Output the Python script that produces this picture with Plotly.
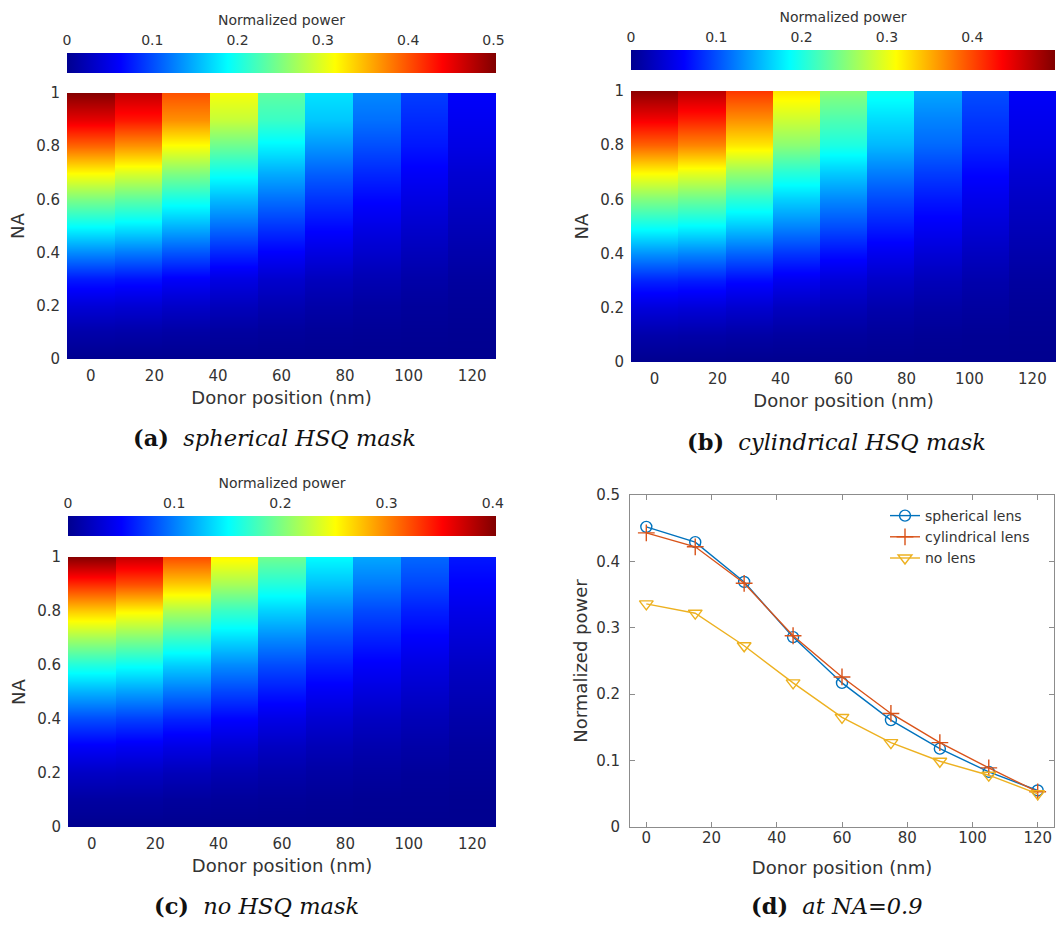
import plotly.graph_objects as go

W, H = 1058, 927

# ---------------- data ----------------
donor_nm = [0, 15, 30, 45, 60, 75, 90, 105, 120]
na_levels = [0.0, 0.1, 0.2, 0.3, 0.4, 0.5, 0.6, 0.7, 0.8, 0.9, 1.0]

# Normalized power maps: one row per NA level (bottom -> top), one column per donor position
power_spherical_mask = [
    [0.000, 0.000, 0.000, 0.000, 0.000, 0.000, 0.000, 0.000, 0.000],
    [0.015, 0.014, 0.012, 0.009, 0.007, 0.005, 0.004, 0.003, 0.002],
    [0.040, 0.038, 0.032, 0.025, 0.019, 0.014, 0.010, 0.007, 0.005],
    [0.075, 0.071, 0.060, 0.047, 0.035, 0.026, 0.020, 0.014, 0.009],
    [0.130, 0.122, 0.104, 0.081, 0.061, 0.046, 0.034, 0.024, 0.016],
    [0.190, 0.179, 0.152, 0.118, 0.089, 0.067, 0.049, 0.035, 0.023],
    [0.250, 0.235, 0.200, 0.155, 0.118, 0.088, 0.065, 0.047, 0.031],
    [0.315, 0.296, 0.252, 0.195, 0.148, 0.110, 0.082, 0.059, 0.038],
    [0.390, 0.367, 0.312, 0.242, 0.183, 0.137, 0.101, 0.073, 0.048],
    [0.452, 0.429, 0.369, 0.286, 0.217, 0.161, 0.118, 0.083, 0.055],
    [0.500, 0.470, 0.400, 0.310, 0.235, 0.175, 0.130, 0.093, 0.061],
]
power_cylindrical_mask = [
    [0.000, 0.000, 0.000, 0.000, 0.000, 0.000, 0.000, 0.000, 0.000],
    [0.015, 0.014, 0.012, 0.010, 0.008, 0.006, 0.004, 0.003, 0.002],
    [0.042, 0.040, 0.035, 0.027, 0.022, 0.016, 0.012, 0.009, 0.005],
    [0.078, 0.075, 0.065, 0.052, 0.040, 0.031, 0.023, 0.016, 0.009],
    [0.132, 0.126, 0.110, 0.087, 0.068, 0.052, 0.039, 0.027, 0.016],
    [0.191, 0.183, 0.159, 0.126, 0.099, 0.075, 0.056, 0.039, 0.023],
    [0.250, 0.239, 0.208, 0.164, 0.129, 0.098, 0.073, 0.051, 0.030],
    [0.314, 0.300, 0.261, 0.206, 0.162, 0.124, 0.092, 0.064, 0.038],
    [0.387, 0.370, 0.322, 0.254, 0.200, 0.152, 0.113, 0.079, 0.047],
    [0.443, 0.422, 0.367, 0.288, 0.226, 0.171, 0.127, 0.089, 0.053],
    [0.490, 0.468, 0.408, 0.322, 0.253, 0.193, 0.143, 0.100, 0.059],
]
power_no_mask = [
    [0.000, 0.000, 0.000, 0.000, 0.000, 0.000, 0.000, 0.000, 0.000],
    [0.008, 0.008, 0.006, 0.005, 0.004, 0.003, 0.002, 0.002, 0.001],
    [0.024, 0.023, 0.019, 0.015, 0.012, 0.009, 0.007, 0.005, 0.004],
    [0.048, 0.045, 0.039, 0.031, 0.023, 0.018, 0.014, 0.011, 0.007],
    [0.080, 0.075, 0.064, 0.051, 0.039, 0.030, 0.023, 0.018, 0.012],
    [0.120, 0.113, 0.097, 0.077, 0.059, 0.045, 0.035, 0.027, 0.018],
    [0.164, 0.154, 0.132, 0.105, 0.080, 0.062, 0.048, 0.037, 0.024],
    [0.216, 0.203, 0.174, 0.138, 0.105, 0.081, 0.063, 0.049, 0.032],
    [0.272, 0.255, 0.219, 0.173, 0.133, 0.102, 0.079, 0.062, 0.040],
    [0.336, 0.322, 0.273, 0.217, 0.165, 0.127, 0.099, 0.078, 0.050],
    [0.400, 0.375, 0.322, 0.255, 0.195, 0.150, 0.116, 0.091, 0.059],
]

# Panel (d): normalized power at NA = 0.9
spherical_lens = [0.452, 0.429, 0.369, 0.286, 0.217, 0.161, 0.118, 0.083, 0.055]
cylindrical_lens = [0.443, 0.422, 0.367, 0.288, 0.226, 0.171, 0.127, 0.089, 0.053]
no_lens = [0.336, 0.322, 0.273, 0.217, 0.165, 0.127, 0.099, 0.078, 0.050]

# colour limits of each map
cmax_a, cmax_b, cmax_c = 0.503, 0.497, 0.403
cbar_ticks_a = [0, 0.1, 0.2, 0.3, 0.4, 0.5]
cbar_ticks_b = [0, 0.1, 0.2, 0.3, 0.4]
cbar_ticks_c = [0, 0.1, 0.2, 0.3, 0.4]
x_ticks = [0, 20, 40, 60, 80, 100, 120]
na_ticks = [0, 0.2, 0.4, 0.6, 0.8, 1]
p_ticks = [0, 0.1, 0.2, 0.3, 0.4, 0.5]

# ---------------- style ----------------
JET = [[0.0, "rgb(0,0,143)"], [0.125, "rgb(0,0,255)"], [0.375, "rgb(0,255,255)"],
       [0.625, "rgb(255,255,0)"], [0.875, "rgb(255,0,0)"], [1.0, "rgb(128,0,0)"]]
SANS = "DejaVu Sans"
SERIF = "DejaVu Serif"
TXT = "#333333"


def px_x(p):
    return p / W


def px_y(p):
    return 1 - p / H


# panel boxes in pixels: (left, right, top, bottom)
box_a = (67, 496, 93, 359)
box_b = (631, 1056, 91, 362)
box_c = (68, 496, 557, 827)
box_d = (630, 1054, 495, 827)
cbar_a = (67, 496, 53, 73)
cbar_b = (631, 1055, 50, 70)
cbar_c = (68, 496, 516, 536)

fig = go.Figure()

step = donor_nm[1] - donor_nm[0]
edge = 0.02  # columns are flat: duplicate each value at both edges of its column
col_x = []
for xc in donor_nm:
    col_x += [xc - step / 2 + edge, xc + step / 2 - edge]

maps = [
    (power_spherical_mask, "x", "y", "coloraxis"),
    (power_cylindrical_mask, "x2", "y2", "coloraxis2"),
    (power_no_mask, "x3", "y3", "coloraxis3"),
]
for mat, xa, ya, ca in maps:
    z = [[v for v in row for _ in (0, 1)] for row in mat]
    fig.add_trace(go.Heatmap(
        x=col_x, y=na_levels, z=z, zsmooth="best",
        coloraxis=ca, xaxis=xa, yaxis=ya, hoverinfo="skip",
    ))

line_series = [
    ("spherical lens", spherical_lens, "#0072BD", "circle-open", 11),
    ("cylindrical lens", cylindrical_lens, "#D95319", "cross-thin-open", 12),
    ("no lens", no_lens, "#EDB120", "triangle-down-open", 12),
]
for name, vals, colr, sym, sz in line_series:
    fig.add_trace(go.Scatter(
        x=donor_nm, y=vals, mode="lines+markers", name=name,
        line=dict(color=colr, width=1.4),
        marker=dict(symbol=sym, size=sz, color=colr, line=dict(width=1.4, color=colr)),
        xaxis="x4", yaxis="y4",
    ))

# invisible carriers so the colour-bar label axes get drawn
for xa, ya, cmax in [("x5", "y5", cmax_a), ("x6", "y6", cmax_b), ("x7", "y7", cmax_c)]:
    fig.add_trace(go.Scatter(x=[0, cmax], y=[0, 0], mode="none", showlegend=False,
                             hoverinfo="skip", xaxis=xa, yaxis=ya))


def cbar(c, cmax):
    l, r, t, b = c
    return dict(
        cmin=0, cmax=cmax, colorscale=JET,
        colorbar=dict(
            orientation="h", x=px_x((l + r) / 2), xanchor="center",
            y=px_y((t + b) / 2), yanchor="middle",
            len=r - l, lenmode="pixels", thickness=b - t, thicknessmode="pixels",
            xpad=0, ypad=0, showticklabels=False, ticks="", outlinewidth=0,
        ),
    )


def heat_axes(box, anchor_x, anchor_y):
    l, r, t, b = box
    xa = dict(
        domain=[px_x(l), px_x(r)], anchor=anchor_y, range=[donor_nm[0] - step / 2, donor_nm[-1] + step / 2],
        tickvals=x_ticks, ticks="", showgrid=False, zeroline=False, showline=False,
        tickfont=dict(family=SANS, size=15, color=TXT), ticklabelstandoff=6,
        title=dict(text="Donor position (nm)", font=dict(family=SANS, size=18, color=TXT), standoff=7),
    )
    ya = dict(
        domain=[px_y(b), px_y(t)], anchor=anchor_x, range=[0, 1],
        tickvals=na_ticks, ticks="", showgrid=False, zeroline=False, showline=False,
        tickfont=dict(family=SANS, size=15, color=TXT), ticklabelstandoff=6,
        title=dict(text="NA", font=dict(family=SANS, size=18, color=TXT), standoff=6),
    )
    return xa, ya


def cbar_label_axes(c, cmax, ticks, anchor_x, anchor_y):
    l, r, t, b = c
    xa = dict(
        domain=[px_x(l), px_x(r)], anchor=anchor_y, side="top", range=[0, cmax],
        tickvals=ticks, ticks="", showgrid=False, zeroline=False, showline=False,
        tickfont=dict(family=SANS, size=14, color=TXT), ticklabelstandoff=4,
        title=dict(text="Normalized power", font=dict(family=SANS, size=14, color=TXT), standoff=3),
        fixedrange=True,
    )
    ya = dict(domain=[px_y(b), px_y(t)], anchor=anchor_x, visible=False, fixedrange=True)
    return xa, ya


xa1, ya1 = heat_axes(box_a, "x", "y")
xa2, ya2 = heat_axes(box_b, "x2", "y2")
xa3, ya3 = heat_axes(box_c, "x3", "y3")
xa5, ya5 = cbar_label_axes(cbar_a, cmax_a, cbar_ticks_a, "x5", "y5")
xa6, ya6 = cbar_label_axes(cbar_b, cmax_b, cbar_ticks_b, "x6", "y6")
xa7, ya7 = cbar_label_axes(cbar_c, cmax_c, cbar_ticks_c, "x7", "y7")

l, r, t, b = box_d
xa4 = dict(
    domain=[px_x(l), px_x(r)], anchor="y4", range=[-5, 125], tickvals=x_ticks,
    ticks="inside", ticklen=5, tickcolor="#8c8c8c", showline=True, linecolor="#8c8c8c",
    linewidth=1, mirror="ticks", showgrid=False, zeroline=False,
    tickfont=dict(family=SANS, size=15, color=TXT), ticklabelstandoff=-3,
    title=dict(text="Donor position (nm)", font=dict(family=SANS, size=18, color=TXT), standoff=15),
)
ya4 = dict(
    domain=[px_y(b), px_y(t)], anchor="x4", range=[0, 0.5], tickvals=p_ticks,
    ticks="inside", ticklen=5, tickcolor="#8c8c8c", showline=True, linecolor="#8c8c8c",
    linewidth=1, mirror="ticks", showgrid=False, zeroline=False,
    tickfont=dict(family=SANS, size=15, color=TXT), ticklabelstandoff=6,
    title=dict(text="Normalized power", font=dict(family=SANS, size=18, color=TXT), standoff=3),
)

captions = [
    ("<b>(a)</b>  <i>spherical HSQ mask</i>", 274, 438),
    ("<b>(b)</b>  <i>cylindrical HSQ mask</i>", 836, 442),
    ("<b>(c)</b>  <i>no HSQ mask</i>", 256, 906),
    ("<b>(d)</b>  <i>at NA=0.9</i>", 837, 906),
]
annotations = [
    dict(text=txt, x=px_x(cx), y=px_y(cy), xref="paper", yref="paper",
         xanchor="center", yanchor="middle", showarrow=False,
         font=dict(family=SERIF, size=22.5, color="#111111"))
    for txt, cx, cy in captions
]

fig.update_layout(
    width=W, height=H, margin=dict(l=0, r=0, t=0, b=0, autoexpand=False),
    paper_bgcolor="white", plot_bgcolor="white",
    coloraxis=cbar(cbar_a, cmax_a), coloraxis2=cbar(cbar_b, cmax_b), coloraxis3=cbar(cbar_c, cmax_c),
    xaxis=xa1, yaxis=ya1, xaxis2=xa2, yaxis2=ya2, xaxis3=xa3, yaxis3=ya3,
    xaxis4=xa4, yaxis4=ya4, xaxis5=xa5, yaxis5=ya5, xaxis6=xa6, yaxis6=ya6,
    xaxis7=xa7, yaxis7=ya7,
    showlegend=True,
    legend=dict(x=px_x(885), y=px_y(500), xanchor="left", yanchor="top",
                bgcolor="rgba(0,0,0,0)", font=dict(family=SANS, size=14, color=TXT),
                tracegroupgap=0, itemwidth=30),
    annotations=annotations,
)

fig.write_html("out.html")
